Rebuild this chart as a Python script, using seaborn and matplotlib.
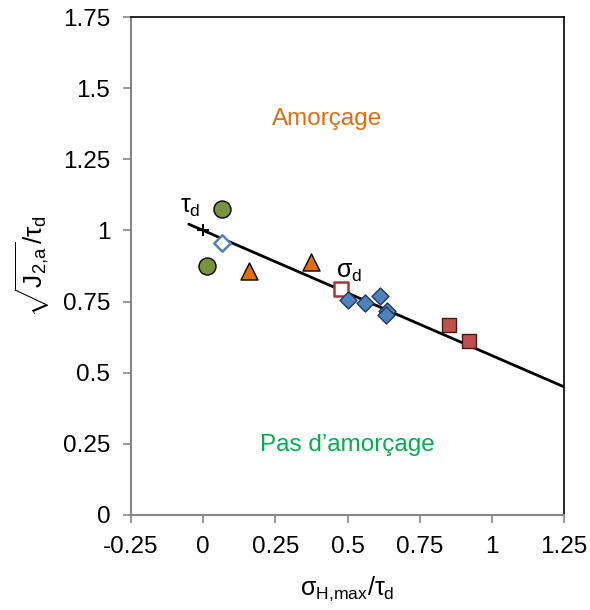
import seaborn as sns
import matplotlib.pyplot as plt
import pandas as pd

sns.set_theme(style="white")
plt.rcParams["font.family"] = ["Liberation Sans", "DejaVu Sans"]
plt.rcParams["mathtext.fontset"] = "custom"
plt.rcParams["mathtext.rm"] = "Liberation Sans"
plt.rcParams["mathtext.it"] = "Liberation Sans"
plt.rcParams["mathtext.bf"] = "Liberation Sans:bold"
plt.rcParams["text.color"] = "black"
plt.rcParams["axes.labelcolor"] = "black"
plt.rcParams["xtick.labelcolor"] = "black"
plt.rcParams["ytick.labelcolor"] = "black"

# data
circle_x = [0.066, 0.014]
circle_y = [1.075, 0.875]
triangle_x = [0.160, 0.375]
triangle_y = [0.857, 0.889]
open_diamond_x = [0.066]
open_diamond_y = [0.956]
open_square_x = [0.476]
open_square_y = [0.794]
diamond_x = [0.500, 0.560, 0.612, 0.638, 0.633]
diamond_y = [0.755, 0.745, 0.770, 0.715, 0.703]
square_x = [0.851, 0.920]
square_y = [0.668, 0.611]
line_x = [-0.05, 1.25]
line_y = [1.022, 0.450]
x_ticks = [-0.25, 0, 0.25, 0.5, 0.75, 1, 1.25]
x_labels = ["-0.25", "0", "0.25", "0.5", "0.75", "1", "1.25"]
y_ticks = [0, 0.25, 0.5, 0.75, 1, 1.25, 1.5, 1.75]
y_labels = ["0", "0.25", "0.5", "0.75", "1", "1.25", "1.5", "1.75"]

fig = plt.figure(figsize=(5.9, 6.1), dpi=100)
ax = fig.add_axes([0.222, 0.156, 0.734, 0.816])

sns.lineplot(ax=ax, x=line_x, y=line_y, color="black", linewidth=2, zorder=2)
ax.plot([0], [1], marker="+", color="black", markersize=9, mew=1.5, zorder=3)

sns.scatterplot(ax=ax, x=circle_x, y=circle_y, marker="o", s=150,
                color="#77933C", edgecolor="black", linewidth=1, zorder=4)
sns.scatterplot(ax=ax, x=triangle_x, y=triangle_y, marker="^", s=150,
                color="#E46C0A", edgecolor="black", linewidth=1, zorder=4)
sns.scatterplot(ax=ax, x=open_diamond_x, y=open_diamond_y, marker="D", s=70,
                facecolor="white", edgecolor="#4F81BD", linewidth=1.8, zorder=4)
sns.scatterplot(ax=ax, x=open_square_x, y=open_square_y, marker="s", s=100,
                facecolor="white", edgecolor="#A33A3A", linewidth=1.8, zorder=4)
sns.scatterplot(ax=ax, x=diamond_x, y=diamond_y, marker="D", s=75,
                color="#4F81BD", edgecolor="#1F3A60", linewidth=1, zorder=4)
sns.scatterplot(ax=ax, x=square_x, y=square_y, marker="s", s=110,
                color="#C0504D", edgecolor="#3A2020", linewidth=1, zorder=4)

ax.text(-0.045, 1.04, r"$\tau_d$", fontsize=18, ha="center", va="bottom")
ax.text(0.505, 0.81, r"$\sigma_d$", fontsize=18, ha="center", va="bottom")
ax.text(0.43, 1.39, "Amorçage", color="#E46C0A", fontsize=17.5, ha="center", va="center")
ax.text(0.5, 0.246, "Pas d’amorçage", color="#00B050", fontsize=17.5, ha="center", va="center")

ax.set_xlim(-0.25, 1.25)
ax.set_ylim(0, 1.75)
ax.set_xticks(x_ticks)
ax.set_xticklabels(x_labels, fontsize=17.5)
ax.set_yticks(y_ticks)
ax.set_yticklabels(y_labels, fontsize=17.5)
ax.tick_params(axis="both", direction="out", length=6, width=1.2, color="#868686",
               bottom=True, left=True)
ax.tick_params(axis="x", pad=9)
ax.tick_params(axis="y", pad=9)

for side in ["left", "bottom"]:
    ax.spines[side].set_color("#868686")
    ax.spines[side].set_linewidth(1.5)
for side in ["top", "right"]:
    ax.spines[side].set_color("black")
    ax.spines[side].set_linewidth(1.2)

ax.set_xlabel(r"$\sigma_{H,\!max}/\tau_d$", fontsize=18, labelpad=12)
ax.set_ylabel(r"$\sqrt{J_{2,\!a}}/\tau_d$", fontsize=19, labelpad=8)

plt.savefig("out.png", dpi=100)
